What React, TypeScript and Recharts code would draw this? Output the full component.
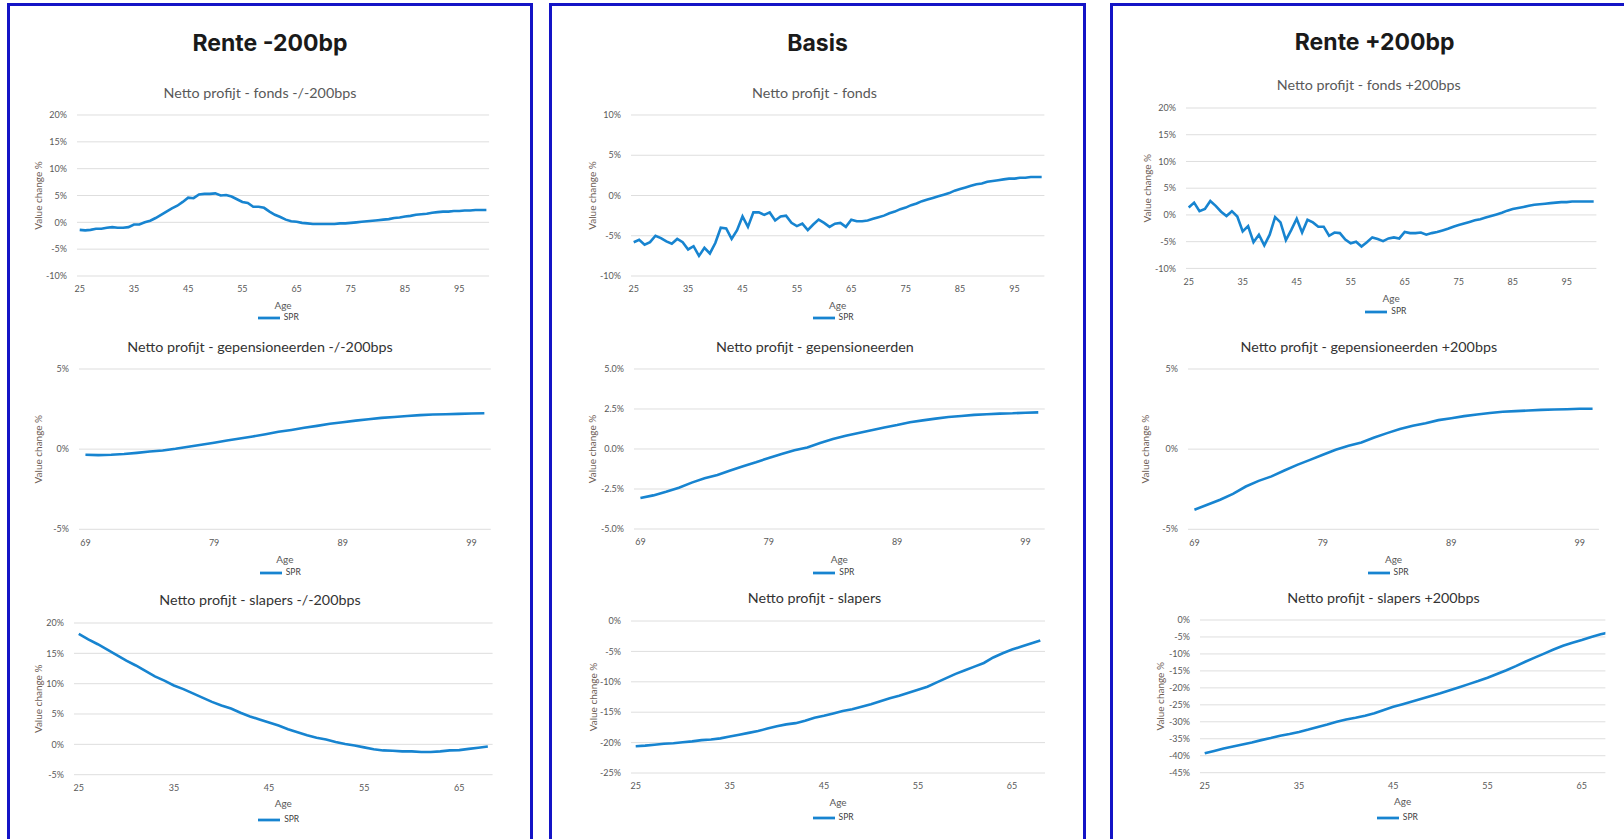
import React from "react";
import { LineChart, Line, XAxis, YAxis, CartesianGrid, Legend } from "recharts";

const range = (a: number, b: number) => Array.from({ length: b - a + 1 }, (_, i) => a + i);

// categories (age)
const agesFonds = range(25, 100);
const agesGepensioneerden = range(69, 100);
const agesSlapers = range(25, 68);

// Netto profijt - fonds (%)
const fondsMin200 = [
  -1.4, -1.5, -1.4, -1.2, -1.2, -1.0, -0.9, -1.0, -1.0, -0.9,
  -0.4, -0.4, 0.0, 0.3, 0.8, 1.4, 2.0, 2.6, 3.1, 3.8,
  4.6, 4.5, 5.2, 5.3, 5.3, 5.4, 5.0, 5.1, 4.8, 4.3,
  3.8, 3.6, 2.9, 2.9, 2.7, 2.0, 1.4, 1.0, 0.5, 0.2,
  0.1, -0.1, -0.2, -0.3, -0.3, -0.3, -0.3, -0.3, -0.2, -0.2,
  -0.1, 0.0, 0.1, 0.2, 0.3, 0.4, 0.5, 0.6, 0.8, 0.9,
  1.1, 1.2, 1.4, 1.5, 1.6, 1.8, 1.9, 2.0, 2.0, 2.1,
  2.1, 2.2, 2.2, 2.3, 2.3, 2.3,
];
const fondsBasis = [
  -5.8, -5.5, -6.1, -5.8, -5.0, -5.3, -5.7, -6.0, -5.4, -5.8,
  -6.7, -6.3, -7.5, -6.5, -7.2, -5.9, -4.0, -4.1, -5.4, -4.3,
  -2.6, -3.9, -2.1, -2.1, -2.4, -2.1, -3.1, -2.6, -2.5, -3.4,
  -3.8, -3.5, -4.3, -3.6, -3.0, -3.4, -3.9, -3.5, -3.4, -3.9,
  -3.0, -3.2, -3.2, -3.1, -2.9, -2.7, -2.5, -2.2, -2.0, -1.7,
  -1.5, -1.2, -1.0, -0.7, -0.5, -0.3, -0.1, 0.1, 0.3, 0.6,
  0.8, 1.0, 1.2, 1.4, 1.5, 1.7, 1.8, 1.9, 2.0, 2.1,
  2.1, 2.2, 2.2, 2.3, 2.3, 2.3,
];
const fondsPlus200 = [
  1.4, 2.3, 0.7, 1.1, 2.6, 1.7, 0.6, -0.2, 0.7, -0.3,
  -3.1, -2.1, -5.1, -3.7, -5.7, -3.7, -0.4, -1.4, -4.7, -2.8,
  -0.7, -3.3, -0.9, -1.4, -2.2, -2.2, -3.9, -3.3, -3.4, -4.6,
  -5.3, -5.0, -5.9, -5.1, -4.2, -4.5, -4.9, -4.4, -4.2, -4.4,
  -3.2, -3.4, -3.4, -3.3, -3.7, -3.4, -3.2, -2.9, -2.6, -2.2,
  -1.9, -1.6, -1.3, -1.0, -0.8, -0.5, -0.2, 0.1, 0.4, 0.8,
  1.1, 1.3, 1.5, 1.7, 1.9, 2.0, 2.1, 2.2, 2.3, 2.4,
  2.4, 2.5, 2.5, 2.5, 2.5, 2.5,
];

// Netto profijt - gepensioneerden (%)
const gepensMin200 = [
  -0.35, -0.37, -0.35, -0.3, -0.23, -0.15, -0.08, 0.02, 0.15, 0.27,
  0.4, 0.54, 0.66, 0.79, 0.93, 1.08, 1.2, 1.33, 1.45, 1.58,
  1.68, 1.78, 1.87, 1.95, 2.01, 2.07, 2.12, 2.16, 2.18, 2.2,
  2.22, 2.24,
];
const gepensBasis = [
  -3.06, -2.9, -2.67, -2.42, -2.1, -1.83, -1.63, -1.35, -1.08, -0.83,
  -0.56, -0.31, -0.08, 0.1, 0.38, 0.63, 0.83, 1.0, 1.17, 1.35,
  1.5, 1.67, 1.79, 1.9, 2.0, 2.06, 2.13, 2.17, 2.21, 2.23,
  2.27, 2.29,
];
const gepensPlus200 = [
  -3.78, -3.47, -3.16, -2.79, -2.33, -1.98, -1.7, -1.33, -0.98, -0.67,
  -0.35, -0.04, 0.21, 0.42, 0.73, 1.0, 1.25, 1.46, 1.62, 1.81,
  1.93, 2.06, 2.16, 2.25, 2.33, 2.37, 2.41, 2.45, 2.47, 2.49,
  2.52, 2.52,
];

// Netto profijt - slapers (%)
const slapersMin200 = [
  18.2, 17.3, 16.5, 15.6, 14.7, 13.8, 13.0, 12.1, 11.2, 10.5,
  9.7, 9.1, 8.4, 7.7, 7.0, 6.4, 5.9, 5.2, 4.6, 4.1,
  3.6, 3.1, 2.5, 2.0, 1.5, 1.1, 0.8, 0.4, 0.05, -0.2,
  -0.5, -0.8, -1.0, -1.05, -1.15, -1.15, -1.25, -1.25, -1.15, -1.0,
  -0.95, -0.75, -0.55, -0.35,
];
const slapersBasis = [
  -20.6, -20.5, -20.35, -20.2, -20.1, -19.95, -19.8, -19.6, -19.5, -19.3,
  -19.0, -18.7, -18.4, -18.1, -17.7, -17.3, -17.0, -16.8, -16.4, -15.9,
  -15.6, -15.2, -14.8, -14.5, -14.1, -13.7, -13.2, -12.7, -12.3, -11.8,
  -11.3, -10.8, -10.1, -9.4, -8.7, -8.1, -7.5, -6.9, -6.0, -5.3,
  -4.7, -4.2, -3.7, -3.2,
];
const slapersPlus200 = [
  -39.3, -38.6, -37.9, -37.3, -36.7, -36.1, -35.4, -34.8, -34.1, -33.6,
  -33.0, -32.3, -31.5, -30.8, -30.0, -29.3, -28.8, -28.2, -27.5, -26.5,
  -25.6, -24.8, -24.0, -23.2, -22.4, -21.6, -20.7, -19.8, -18.9, -18.0,
  -17.0, -15.9, -14.8, -13.6, -12.3, -11.1, -9.9, -8.7, -7.6, -6.7,
  -5.9, -5.0, -4.2, -3.6,
];

// tick labels
const xTicksFonds = [25, 35, 45, 55, 65, 75, 85, 95];
const xTicksGepens = [69, 79, 89, 99];
const xTicksSlapers = [25, 35, 45, 55, 65];

const yTicksFondsWide = [-10, -5, 0, 5, 10, 15, 20];
const yTicksFondsBasis = [-10, -5, 0, 5, 10];
const yTicksGepens = [-5, 0, 5];
const yTicksGepensBasis = [-5, -2.5, 0, 2.5, 5];
const yTicksSlapersMin = [-5, 0, 5, 10, 15, 20];
const yTicksSlapersBasis = [-25, -20, -15, -10, -5, 0];
const yTicksSlapersPlus = [-45, -40, -35, -30, -25, -20, -15, -10, -5, 0];

const panelTitles = ["Rente -200bp", "Basis", "Rente +200bp"];

const pct0 = (v: number) => `${v}%`;
const pct1 = (v: number) => `${v.toFixed(1)}%`;

const FONT = "Lato, 'Open Sans', sans-serif";
const LINE = "#1784d0";
const TICK = "#595959";

type Spec = {
  ages: number[];
  values: number[];
  title: string;
  titleX: number;
  titleY: number;
  titleColor: string;
  plotL: number;
  plotR: number;
  yTop: number;
  yBot: number;
  xDomain: [number, number];
  xTicks: number[];
  yTicks: number[];
  fmt: (v: number) => string;
  yLabelX: number;
  ageY: number;
  legendY: number;
};

const YW = 50;
const PT = 10;
const PR = 10;
const XH = 36;
const PB = 30;

function MiniChart({ s }: { s: Spec }) {
  const plotW = s.plotR - s.plotL;
  const plotH = s.yBot - s.yTop;
  const width = plotW + YW + PR;
  const height = PT + plotH + XH + PB;
  const data = s.ages.map((age, i) => ({ age, v: s.values[i] }));
  const yDomain: [number, number] = [s.yTicks[0], s.yTicks[s.yTicks.length - 1]];
  const ageDist = s.ageY - s.yBot;
  const yDist = s.plotL - s.yLabelX;

  return (
    <>
      <div
        style={{
          position: "absolute",
          left: s.titleX - 200,
          width: 400,
          top: s.titleY - 12,
          height: 24,
          lineHeight: "24px",
          textAlign: "center",
          fontFamily: FONT,
          fontSize: 14.3,
          color: s.titleColor,
          whiteSpace: "nowrap",
        }}
      >
        {s.title}
      </div>
      <div style={{ position: "absolute", left: s.plotL - YW, top: s.yTop - PT }}>
        <LineChart
          width={width}
          height={height}
          data={data}
          margin={{ top: PT, right: PR, left: 0, bottom: PB }}
        >
          <CartesianGrid vertical={false} stroke="#dedede" strokeWidth={1} />
          <XAxis
            dataKey="age"
            type="number"
            domain={s.xDomain}
            ticks={s.xTicks}
            interval={0}
            allowDataOverflow
            axisLine={false}
            tickLine={false}
            tickMargin={4}
            height={XH}
            tick={{ fontSize: 9, fill: TICK, fontFamily: FONT }}
            label={(p: any) => {
              const vb = p.viewBox;
              return (
                <text
                  x={vb.x + vb.width / 2}
                  y={vb.y + ageDist}
                  textAnchor="middle"
                  dominantBaseline="central"
                  fontSize={10}
                  fill={TICK}
                  fontFamily={FONT}
                >
                  Age
                </text>
              );
            }}
          />
          <YAxis
            type="number"
            domain={yDomain}
            ticks={s.yTicks}
            interval={0}
            allowDataOverflow
            width={YW}
            axisLine={false}
            tickLine={false}
            tickMargin={4}
            tickFormatter={s.fmt}
            tick={{ fontSize: 9, fill: TICK, fontFamily: FONT }}
            label={(p: any) => {
              const vb = p.viewBox;
              const cx = vb.x + vb.width - yDist;
              const cy = vb.y + vb.height / 2;
              return (
                <text
                  x={cx}
                  y={cy}
                  transform={`rotate(-90, ${cx}, ${cy})`}
                  textAnchor="middle"
                  dominantBaseline="central"
                  fontSize={10}
                  fill="#6e5e56"
                  fontFamily={FONT}
                >
                  Value change %
                </text>
              );
            }}
          />
          <Legend
            layout="horizontal"
            verticalAlign="middle"
            align="center"
            iconType="plainline"
            iconSize={22}
            wrapperStyle={{
              top: PT + plotH + (s.legendY - s.yBot) - 11,
              left: YW,
              width: plotW,
              height: 22,
              fontFamily: FONT,
              fontSize: 8.5,
              lineHeight: "22px",
            }}
            formatter={(value: string) => <span style={{ color: "#404040" }}>{value}</span>}
          />
          <Line
            dataKey="v"
            name="SPR"
            type="linear"
            stroke={LINE}
            strokeWidth={2.6}
            dot={false}
            activeDot={false}
            isAnimationActive={false}
          />
        </LineChart>
      </div>
    </>
  );
}

const specs: Spec[] = [
  // Rente -200bp
  {
    ages: agesFonds, values: fondsMin200, title: "Netto profijt - fonds -/-200bps",
    titleX: 260, titleY: 92.7, titleColor: "#595959",
    plotL: 77.2, plotR: 489.3, yTop: 115, yBot: 276,
    xDomain: [24.5, 100.5], xTicks: xTicksFonds, yTicks: yTicksFondsWide, fmt: pct0,
    yLabelX: 38, ageY: 305, legendY: 317,
  },
  {
    ages: agesGepensioneerden, values: gepensMin200, title: "Netto profijt - gepensioneerden -/-200bps",
    titleX: 260, titleY: 346.7, titleColor: "#333333",
    plotL: 79.3, plotR: 491.1, yTop: 369, yBot: 529.3,
    xDomain: [68.5, 100.5], xTicks: xTicksGepens, yTicks: yTicksGepens, fmt: pct0,
    yLabelX: 38, ageY: 559.3, legendY: 572.3,
  },
  {
    ages: agesSlapers, values: slapersMin200, title: "Netto profijt - slapers -/-200bps",
    titleX: 260, titleY: 600, titleColor: "#333333",
    plotL: 74.4, plotR: 493, yTop: 623.3, yBot: 775,
    xDomain: [24.5, 68.5], xTicks: xTicksSlapers, yTicks: yTicksSlapersMin, fmt: pct0,
    yLabelX: 38, ageY: 803, legendY: 819,
  },
  // Basis
  {
    ages: agesFonds, values: fondsBasis, title: "Netto profijt - fonds",
    titleX: 814.5, titleY: 92.7, titleColor: "#595959",
    plotL: 631.4, plotR: 1044.8, yTop: 115, yBot: 276,
    xDomain: [24.5, 100.5], xTicks: xTicksFonds, yTicks: yTicksFondsBasis, fmt: pct0,
    yLabelX: 592.8, ageY: 305, legendY: 317,
  },
  {
    ages: agesGepensioneerden, values: gepensBasis, title: "Netto profijt - gepensioneerden",
    titleX: 814.9, titleY: 346.7, titleColor: "#333333",
    plotL: 633.5, plotR: 1044.2, yTop: 369.3, yBot: 529.3,
    xDomain: [68.5, 100.5], xTicks: xTicksGepens, yTicks: yTicksGepensBasis, fmt: pct1,
    yLabelX: 592, ageY: 559.3, legendY: 572.3,
  },
  {
    ages: agesSlapers, values: slapersBasis, title: "Netto profijt - slapers",
    titleX: 814.5, titleY: 598.3, titleColor: "#333333",
    plotL: 631.1, plotR: 1045.1, yTop: 620.7, yBot: 772.7,
    xDomain: [24.5, 68.5], xTicks: xTicksSlapers, yTicks: yTicksSlapersBasis, fmt: pct0,
    yLabelX: 592.8, ageY: 801.7, legendY: 817,
  },
  // Rente +200bp
  {
    ages: agesFonds, values: fondsPlus200, title: "Netto profijt - fonds +200bps",
    titleX: 1368.8, titleY: 85, titleColor: "#595959",
    plotL: 1185.6, plotR: 1596, yTop: 108.3, yBot: 268.7,
    xDomain: [24.5, 100.5], xTicks: xTicksFonds, yTicks: yTicksFondsWide, fmt: pct0,
    yLabelX: 1146.7, ageY: 298, legendY: 310.7,
  },
  {
    ages: agesGepensioneerden, values: gepensPlus200, title: "Netto profijt - gepensioneerden +200bps",
    titleX: 1368.8, titleY: 346.7, titleColor: "#333333",
    plotL: 1187.6, plotR: 1598.6, yTop: 369, yBot: 529.3,
    xDomain: [68.5, 100.5], xTicks: xTicksGepens, yTicks: yTicksGepens, fmt: pct0,
    yLabelX: 1145, ageY: 559.3, legendY: 572.3,
  },
  {
    ages: agesSlapers, values: slapersPlus200, title: "Netto profijt - slapers +200bps",
    titleX: 1383.5, titleY: 598, titleColor: "#333333",
    plotL: 1199.6, plotR: 1605, yTop: 620, yBot: 772.7,
    xDomain: [24.5, 67.5], xTicks: xTicksSlapers, yTicks: yTicksSlapersPlus, fmt: pct0,
    yLabelX: 1160, ageY: 801, legendY: 817,
  },
];

const panels = [
  { left: 7, width: 526, cx: 270, cy: 43.3 },
  { left: 549, width: 537, cx: 817.5, cy: 43 },
  { left: 1110, width: 600, cx: 1374.7, cy: 42 },
];

export default function App() {
  return (
    <div
      style={{
        position: "absolute",
        left: 0,
        top: 0,
        width: 1624,
        height: 839,
        overflow: "hidden",
        background: "#ffffff",
        fontFamily: FONT,
      }}
    >
      {panels.map((p, i) => (
        <React.Fragment key={i}>
          <div
            style={{
              position: "absolute",
              left: p.left,
              top: 3,
              width: p.width,
              height: 880,
              border: "3px solid #1414c6",
              boxSizing: "border-box",
            }}
          />
          <div
            style={{
              position: "absolute",
              left: p.cx - 200,
              width: 400,
              top: p.cy - 16,
              height: 32,
              lineHeight: "32px",
              textAlign: "center",
              fontFamily: "Inter, 'Open Sans', sans-serif",
              fontWeight: 700,
              fontSize: 23,
              color: "#1a1a1a",
              whiteSpace: "pre",
            }}
          >
            {panelTitles[i]}
          </div>
        </React.Fragment>
      ))}
      {specs.map((s, i) => (
        <MiniChart key={i} s={s} />
      ))}
    </div>
  );
}
